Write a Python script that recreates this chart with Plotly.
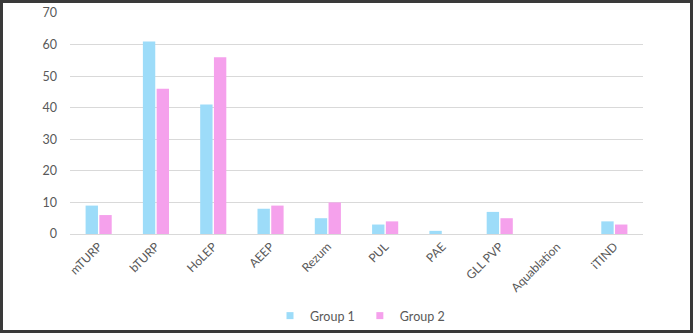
import plotly.graph_objects as go

categories = ["mTURP", "bTURP", "HoLEP", "AEEP", "Rezum", "PUL", "PAE", "GLL PVP", "Aquablation", "iTIND"]
group1 = [9, 61, 41, 8, 5, 3, 1, 7, 0, 4]
group2 = [6, 46, 56, 9, 10, 4, 0, 5, 0, 3]
y_ticks = [0, 10, 20, 30, 40, 50, 60, 70]
series_names = ["Group 1", "Group 2"]
series_colors = ["#9DDCF9", "#F5A1EC"]

W, H = 693, 333
L, R, T, B = 70, 50, 13, 99
pw, ph = W - L - R, H - T - B

font = dict(family="Lato, Open Sans, sans-serif", size=12, color="#595959")

fig = go.Figure()
for name, vals, col in zip(series_names, [group1, group2], series_colors):
    fig.add_bar(x=categories, y=vals, name=name, showlegend=False,
                marker=dict(color=col, line=dict(width=0)))
for name, col in zip(series_names, series_colors):
    fig.add_scatter(x=[None], y=[None], mode="markers", name=name,
                    marker=dict(symbol="square", size=7, color=col))

def px_x(p):
    return (p - L) / pw

def px_y(p):
    return (H - B - p) / ph

fig.update_layout(
    width=W, height=H,
    margin=dict(l=L, r=R, t=T, b=B, pad=0, autoexpand=False),
    paper_bgcolor="white", plot_bgcolor="white",
    font=font,
    barmode="group", bargap=0.52, bargroupgap=0.1,
    showlegend=True,
    legend=dict(orientation="h", x=px_x(270), xanchor="left", y=px_y(316), yanchor="middle",
                font=dict(size=12.5, color="#595959"), itemwidth=30, tracegroupgap=0,
                traceorder="normal", bgcolor="rgba(0,0,0,0)"),
    xaxis=dict(tickangle=-45, showgrid=False, showline=True, linecolor="#d9d9d9", linewidth=1,
               ticks="", automargin=False, tickfont=dict(size=12, color="#595959")),
    yaxis=dict(range=[0, 70], tickvals=y_ticks, showgrid=True, gridcolor="#d9d9d9", gridwidth=1,
               zeroline=False, showline=False, ticks="", ticklabelstandoff=12, automargin=False,
               tickfont=dict(size=12.5, color="#595959")),
    shapes=[dict(type="rect", xref="paper", yref="paper",
                 x0=px_x(1.5), x1=px_x(691.5), y0=px_y(331.5), y1=px_y(1.5),
                 line=dict(color="#3a3a3a", width=3), fillcolor="rgba(0,0,0,0)", layer="above")],
)

fig.write_html("out.html", config={"displayModeBar": False},
               post_script="document.body.style.margin='0';document.body.style.overflow='hidden';")
